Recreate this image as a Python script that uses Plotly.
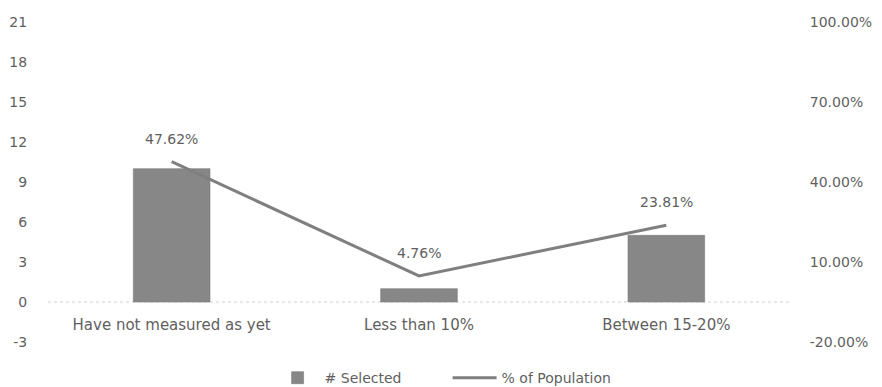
import plotly.graph_objects as go

categories = ["Have not measured as yet", "Less than 10%", "Between 15-20%"]
selected = [10, 1, 5]
pct_population = [0.4762, 0.0476, 0.2381]
pct_labels = ["47.62%", "4.76%", "23.81%"]
left_ticks = [-3, 0, 3, 6, 9, 12, 15, 18, 21]
left_tick_text = ["-3", "0", "3", "6", "9", "12", "15", "18", "21"]
right_ticks = [-0.2, 0.1, 0.4, 0.7, 1.0]
right_tick_text = ["-20.00%", "10.00%", "40.00%", "70.00%", "100.00%"]

TXT = "#5f5f5f"
FONT = "DejaVu Sans"
FS = 14
CLEAR = "rgba(0,0,0,0)"

fig = go.Figure()
fig.add_trace(go.Bar(
    x=categories, y=selected, name="# Selected",
    marker=dict(color="#878787", line=dict(color="#7c7c7c", width=0.6)),
    yaxis="y",
))
fig.add_trace(go.Scatter(
    x=categories, y=pct_population, name="% of Population",
    mode="lines", line=dict(color="#7f7f7f", width=3),
    yaxis="y2",
))

for c, v, t in zip(categories, pct_population, pct_labels):
    fig.add_annotation(x=c, y=v, yref="y2", text=t, showarrow=False,
                       yshift=23, font=dict(family=FONT, size=FS, color=TXT))

fig.add_shape(type="line", xref="paper", x0=0, x1=1, yref="y", y0=0, y1=0,
              line=dict(color="#d0d0d0", width=1, dash="dot"), layer="below")

fig.update_layout(
    width=882, height=387,
    margin=dict(l=48, r=92, t=22, b=45, autoexpand=False),
    paper_bgcolor="white", plot_bgcolor="white",
    font=dict(family=FONT, size=FS, color=TXT),
    bargap=0.69,
    showlegend=True,
    legend=dict(orientation="h", x=0.3, xanchor="left", yref="container",
                y=0.023, yanchor="middle", entrywidth=118,
                font=dict(family=FONT, size=14, color=TXT), itemwidth=44,
                tracegroupgap=0),
    xaxis=dict(anchor="free", position=0.125, showline=False, showgrid=False,
               ticks="outside", ticklen=9, tickcolor=CLEAR, automargin=False,
               tickfont=dict(family=FONT, size=15, color=TXT)),
    yaxis=dict(range=[-3, 21], tickvals=left_ticks, ticktext=left_tick_text,
               showgrid=False, zeroline=False, automargin=False,
               showline=False, ticks="outside", ticklen=17, tickcolor=CLEAR,
               tickfont=dict(family=FONT, size=FS, color=TXT)),
    yaxis2=dict(range=[-0.2, 1.0], tickvals=right_ticks, ticktext=right_tick_text,
                overlaying="y", side="right", showgrid=False, zeroline=False,
                automargin=False, showline=False, ticks="outside", ticklen=16,
                tickcolor=CLEAR, tickfont=dict(family=FONT, size=FS, color=TXT)),
)

fig.write_html("out.html")
